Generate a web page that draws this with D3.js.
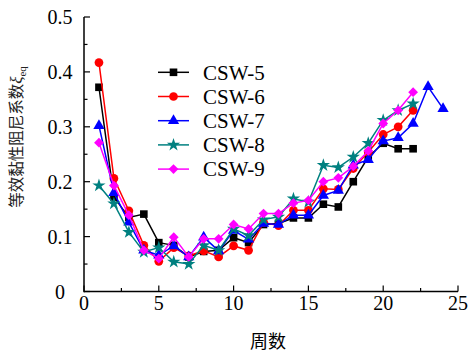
<!DOCTYPE html>
<html>
<head>
<meta charset="utf-8">
<script src="https://cdn.jsdelivr.net/npm/d3@7"></script>
<style>
  body { margin: 0; background: #fff; }
  svg { display: block; }
</style>
</head>
<body>
<div class="chart"></div>
<script>
// cycles (x) and damping values
var cycles22 = d3.range(1, 23);
var cycles24 = d3.range(1, 25);

var csw5 = [0.372, 0.172, 0.135, 0.141, 0.089, 0.084, 0.063, 0.073, 0.075, 0.098, 0.089, 0.122, 0.124, 0.134, 0.134, 0.159, 0.154, 0.200, 0.245, 0.270, 0.260, 0.260];
var csw6 = [0.417, 0.206, 0.147, 0.084, 0.055, 0.080, 0.065, 0.074, 0.063, 0.083, 0.075, 0.126, 0.120, 0.148, 0.148, 0.187, 0.186, 0.224, 0.254, 0.286, 0.300, 0.330];
var csw7 = [0.302, 0.180, 0.126, 0.075, 0.066, 0.083, 0.063, 0.099, 0.074, 0.111, 0.095, 0.124, 0.122, 0.139, 0.139, 0.175, 0.184, 0.230, 0.240, 0.274, 0.280, 0.306, 0.373, 0.333];
var csw8 = [0.193, 0.160, 0.108, 0.072, 0.080, 0.054, 0.050, 0.084, 0.075, 0.114, 0.102, 0.131, 0.136, 0.169, 0.163, 0.230, 0.226, 0.245, 0.270, 0.312, 0.330, 0.342];
var csw9 = [0.271, 0.193, 0.139, 0.075, 0.060, 0.099, 0.063, 0.096, 0.096, 0.122, 0.114, 0.142, 0.142, 0.161, 0.166, 0.200, 0.207, 0.228, 0.256, 0.306, 0.330, 0.363];

var names = ['CSW-5', 'CSW-6', 'CSW-7', 'CSW-8', 'CSW-9'];
var xTicks = [0, 5, 10, 15, 20, 25];
var yTicks = [0, 0.1, 0.2, 0.3, 0.4, 0.5];

var series = [
  { name: names[0], x: cycles22, y: csw5, color: '#000000', sym: d3.symbolSquare, size: 58, rot: 0 },
  { name: names[1], x: cycles22, y: csw6, color: '#ff0000', sym: d3.symbolCircle, size: 60, rot: 0 },
  { name: names[2], x: cycles24, y: csw7, color: '#0000ff', sym: d3.symbolTriangle, size: 55, rot: 0 },
  { name: names[3], x: cycles22, y: csw8, color: '#008080', sym: d3.symbolStar, size: 55, rot: 0 },
  { name: names[4], x: cycles22, y: csw9, color: '#ff00ff', sym: d3.symbolSquare, size: 48, rot: 45 }
];

var W = 470, H = 352;
var margin = { top: 17, right: 12, bottom: 60.5, left: 84 };

var svg = d3.select('.chart').append('svg')
  .attr('width', W).attr('height', H);

var xScale = d3.scaleLinear().domain([0, 25]).range([margin.left, W - margin.right]);
var yScale = d3.scaleLinear().domain([0, 0.5]).range([H - margin.bottom, margin.top]);

var serif = '"Times New Roman", "Liberation Serif", serif';
var cjk = '"Noto Sans CJK SC", sans-serif';

// axes: ticks point inward, minor ticks between majors
var xMinor = d3.range(0, 25.01, 2.5);
var yMinor = d3.range(0, 0.501, 0.05);

var gx = svg.append('g').attr('transform', 'translate(0,' + yScale(0) + ')');
gx.append('line').attr('x1', xScale(0)).attr('x2', xScale(25)).attr('stroke', '#000').attr('stroke-width', 1.5);
gx.selectAll('.mt').data(xMinor).enter().append('line')
  .attr('x1', d => xScale(d)).attr('x2', d => xScale(d))
  .attr('y1', 0).attr('y2', (d, i) => i % 2 == 0 ? -6 : -3.5)
  .attr('stroke', '#000').attr('stroke-width', 1.2);
gx.selectAll('text').data(xTicks).enter().append('text')
  .attr('x', d => xScale(d)).attr('y', 18.5)
  .attr('text-anchor', 'middle')
  .style('font-family', serif).style('font-size', '20px')
  .text(d => d);

var gy = svg.append('g').attr('transform', 'translate(' + xScale(0) + ',0)');
gy.append('line').attr('y1', yScale(0) + 0.75).attr('y2', yScale(0.5)).attr('stroke', '#000').attr('stroke-width', 1.5);
gy.selectAll('.mt').data(yMinor).enter().append('line')
  .attr('y1', d => yScale(d)).attr('y2', d => yScale(d))
  .attr('x1', 0).attr('x2', (d, i) => i % 2 == 0 ? 6 : 3.5)
  .attr('stroke', '#000').attr('stroke-width', 1.2);
gy.selectAll('text').data(yTicks).enter().append('text')
  .attr('x', -24).attr('y', d => yScale(d))
  .attr('dy', '0.36em')
  .attr('text-anchor', 'middle')
  .style('font-family', serif).style('font-size', '20px')
  .text(d => d == 0 ? '0' : d3.format('.1f')(d));

// axis titles
svg.append('text')
  .attr('x', (xScale(0) + xScale(25)) / 2 - 3).attr('y', 348)
  .attr('text-anchor', 'middle')
  .style('font-family', cjk).style('font-size', '18px')
  .text('周数');

var yt = svg.append('text')
  .attr('transform', 'translate(22,137) rotate(-90)')
  .attr('text-anchor', 'middle')
  .style('font-family', cjk).style('font-size', '15.5px').style('fill', '#222');
yt.append('tspan').text('等效黏性阻尼系数');
yt.append('tspan').style('font-family', serif).style('font-style', 'italic').style('font-size', '17px').text('ξ');
yt.append('tspan').attr('dy', 4).style('font-family', serif).style('font-size', '11px').text('eq');

// series
var line = d3.line().x(d => xScale(d[0])).y(d => yScale(d[1]));

series.forEach(s => {
  var pts = s.x.map((x, i) => [x, s.y[i]]);
  var g = svg.append('g');
  g.append('path').datum(pts)
    .attr('d', line)
    .attr('fill', 'none').attr('stroke', s.color).attr('stroke-width', 1.5);
  g.selectAll('path.m').data(pts).enter().append('path')
    .attr('class', 'm')
    .attr('d', d3.symbol().type(s.sym).size(s.size))
    .attr('transform', d => 'translate(' + xScale(d[0]) + ',' + yScale(d[1]) + ') rotate(' + s.rot + ')')
    .attr('fill', s.color);
});

// legend
var legend = svg.append('g');
var rows = legend.selectAll('g').data(series).enter().append('g')
  .attr('transform', (d, i) => 'translate(158,' + (72.3 + i * 24.2) + ')');
rows.append('line').attr('x1', 0).attr('x2', 31)
  .attr('stroke', d => d.color).attr('stroke-width', 1.5);
rows.append('path')
  .attr('d', d => d3.symbol().type(d.sym).size(d.size)())
  .attr('transform', d => 'translate(15.5,0) rotate(' + d.rot + ')')
  .attr('fill', d => d.color);
rows.append('text')
  .attr('x', 45).attr('dy', '0.35em')
  .style('font-family', serif).style('font-size', '21px')
  .text(d => d.name);
</script>
</body>
</html>
